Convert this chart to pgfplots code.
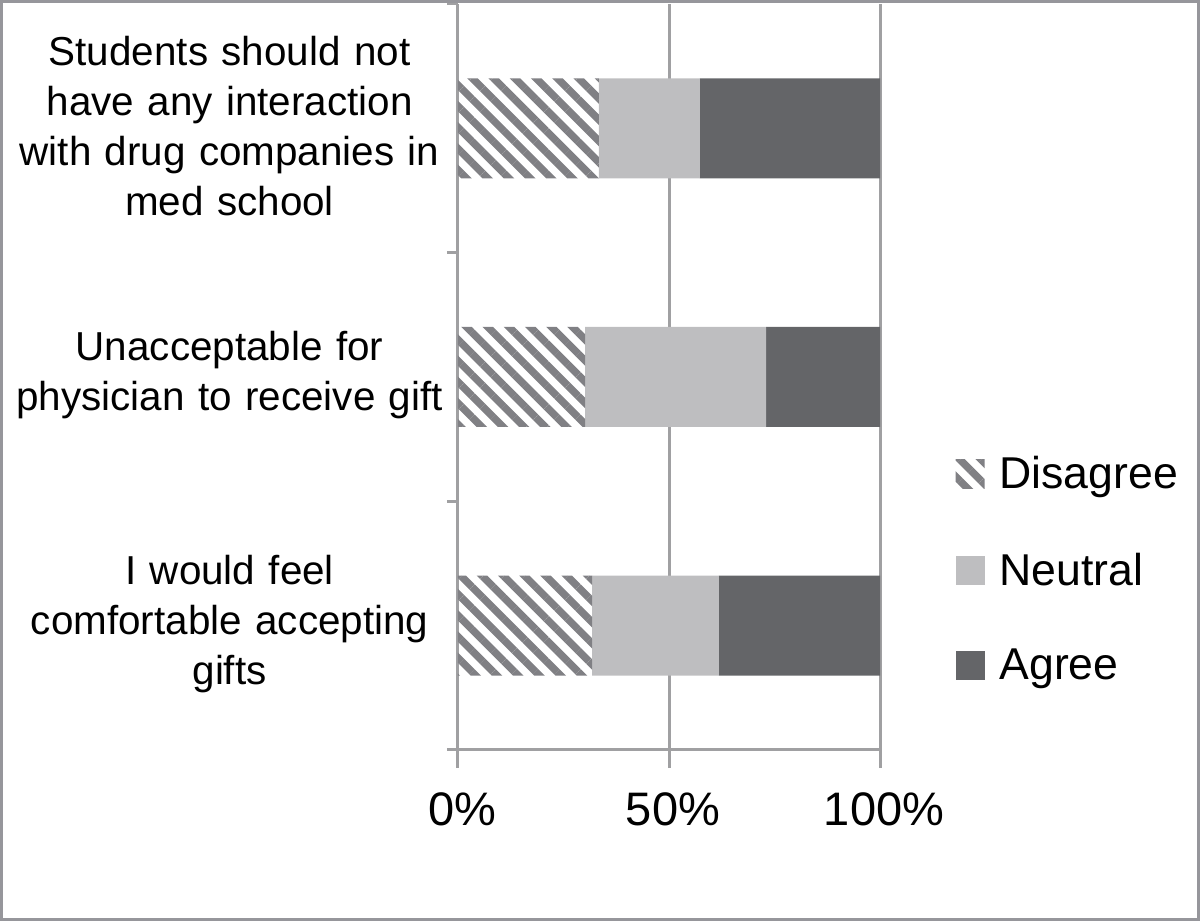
\documentclass[border=0pt]{standalone}
\usepackage{pgfplots}
\pgfplotsset{compat=1.18}
\usepackage{fontspec}
\setmainfont{Liberation Sans}
\usetikzlibrary{patterns.meta}
\definecolor{hatchc}{RGB}{128,128,132}
\definecolor{neutralc}{RGB}{190,190,192}
\definecolor{agreec}{RGB}{100,101,104}
\definecolor{gridc}{RGB}{160,160,162}
\definecolor{framec}{RGB}{150,150,155}
\begin{document}
\begin{tikzpicture}[x=1pt,y=1pt]
\path[use as bounding box] (0,0) rectangle (600,460.5);
\begin{axis}[
  at={(229pt,85.5pt)}, anchor=south west,
  scale only axis, width=211pt, height=373pt,
  xbar stacked, bar width=50pt,
  xmin=0, xmax=100, ymin=-0.5, ymax=2.5,
  axis lines*=left,
  axis line style={gridc, line width=1.5pt},
  xtick={0,50,100}, xticklabels={0\%,50\%,100\%},
  xmajorgrids=true,
  major grid style={gridc, line width=1.5pt},
  tick align=outside,
  major x tick style={gridc, line width=1.5pt},
  major tick length=9pt,
  ytick={0,1,2},
  yticklabels={{I would feel\\comfortable accepting\\gifts},{Unacceptable for\\physician to receive gift},{Students should not\\have any interaction\\with drug companies in\\med school}},
  major y tick style={draw=none},
  minor ytick={-0.5,0.5,1.5,2.5},
  minor y tick style={gridc, line width=1.5pt},
  minor tick length=5.5pt,
  /pgf/number format/assume math mode=true,
  tick label style={text=black},
  yticklabel style={font=\fontsize{20.2}{25}\selectfont, text width=260pt, align=center, inner sep=0pt, anchor=east, xshift=25pt, yshift=1pt},
  xticklabel style={font=\fontsize{23.5}{28}\selectfont, inner sep=0pt, anchor=north, yshift=-12pt, xshift=2pt},
  legend style={at={(rel axis cs:1.178,0.394)}, anchor=north west, draw=none, fill=none,
    font=\fontsize{22.3}{26}\selectfont, inner sep=0pt, row sep=30.5pt,
    nodes={inner sep=0pt}},
  legend cell align=left,
  legend image code/.code={\fill[#1] (0pt,-7.25pt) rectangle (14.5pt,7.25pt); \path (22pt,0pt);},
  clip=false,
]
\addplot[draw=none, pattern={Lines[angle=-45,distance=7.5pt,line width=3.7pt]}, pattern color=hatchc]
  coordinates {(31.8,0) (30.1,1) (33.4,2)};
\addplot[draw=none, fill=neutralc]
  coordinates {(30.0,0) (42.9,1) (23.9,2)};
\addplot[draw=none, fill=agreec]
  coordinates {(38.2,0) (27.0,1) (42.7,2)};
\legend{Disagree,Neutral,Agree}
\end{axis}
\draw[framec, line width=1.5pt] (0.75,0.75) rectangle (599.25,459.75);
\end{tikzpicture}
\end{document}
